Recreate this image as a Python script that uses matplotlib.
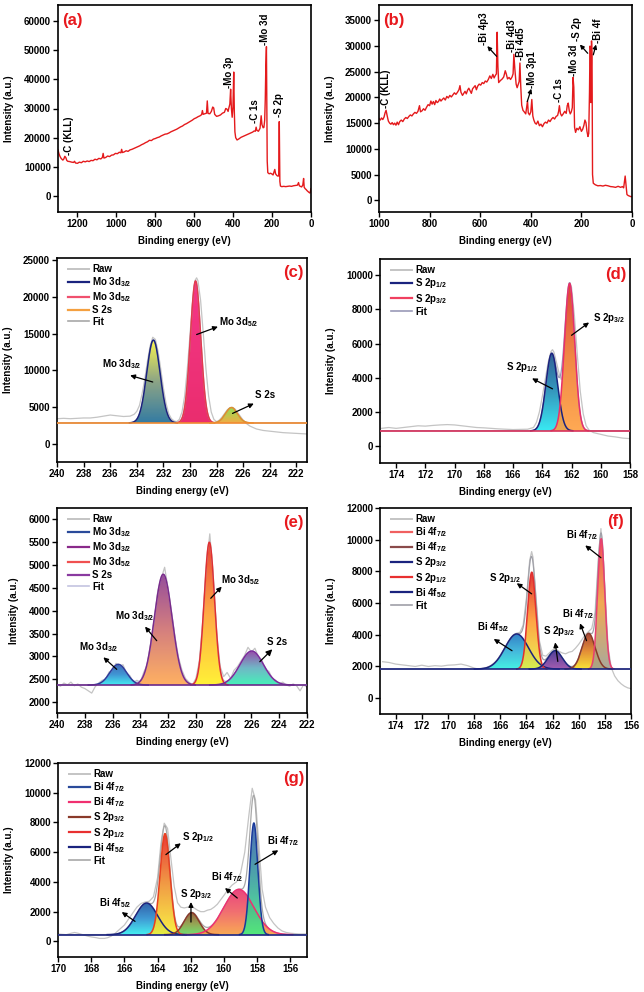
import numpy as np
import matplotlib
matplotlib.use('Agg')
import matplotlib.pyplot as plt
from matplotlib.colors import LinearSegmentedColormap
from matplotlib.patches import Polygon
from matplotlib.lines import Line2D

plt.rcParams['font.family'] = ['Liberation Sans', 'DejaVu Sans']
plt.rcParams['font.weight'] = 'bold'
plt.rcParams['axes.labelweight'] = 'bold'
plt.rcParams['mathtext.fontset'] = 'custom'
plt.rcParams['mathtext.rm'] = 'Liberation Sans:bold'
plt.rcParams['mathtext.bf'] = 'Liberation Sans:bold'
plt.rcParams['mathtext.it'] = 'Liberation Sans:bold'
plt.rcParams['mathtext.default'] = 'bf'

# ---------------- survey spectra ----------------
a_be = [1300, 1295, 1290, 1285, 1280, 1275, 1270, 1265, 1260, 1255, 1250, 1240, 1230, 1220, 1215, 1210,
        1200, 1190, 1180, 1170, 1160, 1150, 1140, 1130, 1120, 1110, 1100, 1090, 1080, 1072, 1068, 1064,
        1055, 1045, 1035, 1025, 1015, 1005, 995, 985, 977, 973, 969, 960, 950, 940, 930, 920, 910, 900,
        890, 880, 870, 860, 850, 840, 830, 820, 810, 800, 790, 780, 770, 760, 750, 740, 730, 720, 710,
        700, 690, 680, 670, 660, 650, 640, 630, 620, 610, 600, 590, 580, 570, 562, 558, 554, 545, 537,
        533, 529, 520, 512, 505, 500, 495, 485, 475, 465, 455, 445, 438, 432, 426, 422, 417, 413, 409,
        405, 401, 397, 394, 391, 387, 380, 370, 360, 350, 340, 330, 320, 310, 300, 292, 286, 282, 278,
        270, 262, 256, 252, 246, 242, 238, 235, 232, 229, 227, 225, 222, 215, 208, 200, 195, 190, 186,
        182, 175, 170, 166, 163, 160, 157, 150, 140, 130, 120, 110, 100, 90, 80, 70, 64, 60, 55, 48,
        42, 38, 35, 30, 25, 20, 15, 10, 5, 2, 0]
a_int = [15800, 14500, 13600, 13000, 12600, 12300, 12700, 13600, 13200, 12200, 11900, 11800, 11600,
         11500, 11900, 11300, 11200, 11600, 11400, 11900, 11700, 12000, 11800, 12200, 12100, 12600,
         12400, 12900, 12700, 13200, 14600, 13000, 13200, 13700, 13500, 14000, 14100, 14600, 14500,
         15000, 14800, 16000, 14900, 15100, 15500, 15300, 15800, 16000, 16300, 16600, 16900, 17200,
         17600, 17900, 18300, 18600, 19100, 19000, 19500, 19700, 20000, 20200, 20600, 20900, 21200,
         21300, 21600, 22000, 22300, 22600, 22900, 23300, 23700, 24000, 24500, 24800, 25200, 25600,
         26000, 26500, 26800, 27200, 27500, 27900, 29300, 28000, 28200, 28400, 32600, 28300, 28200,
         29000, 30500, 30200, 28000, 27300, 27500, 27800, 28400, 28700, 30000, 29800, 29000, 30200,
         31500, 36600, 30000, 27000, 30500, 42500, 29000, 22000, 20000, 19200, 19600, 20100, 20400,
         20700, 21000, 21300, 21600, 21900, 22300, 22200, 23600, 22500, 22200, 23200, 27500, 24500,
         23400, 23500, 26000, 33000, 45000, 51200, 31000, 12000, 8000, 7600, 7800, 7500, 7200, 8200,
         9100, 7600, 7000, 6800, 6900, 25500, 5000, 3400, 3200, 3300, 3200, 3300, 3400, 3300, 3500,
         3600, 3700, 4600, 3500, 3300, 3100, 3800, 6000, 3000, 2500, 2200, 1800, 1500, 1200, 1000,
         2000, 2500]

b_be = [1000, 995, 990, 985, 980, 976, 972, 968, 963, 958, 953, 948, 943, 938, 933, 928, 923, 918,
        912, 906, 900, 894, 888, 882, 876, 870, 864, 858, 852, 846, 840, 836, 830, 824, 818, 812, 806,
        800, 795, 790, 785, 780, 775, 770, 765, 760, 755, 750, 744, 738, 732, 726, 720, 714, 708, 702,
        696, 690, 684, 680, 676, 670, 665, 660, 655, 650, 645, 640, 635, 630, 625, 620, 615, 610, 604,
        598, 592, 586, 580, 574, 568, 562, 556, 550, 545, 540, 536, 533, 530, 527, 520, 513, 507, 501,
        497, 492, 486, 480, 474, 470, 467, 463, 458, 454, 450, 446, 443, 440, 436, 431, 426, 420, 416,
        413, 410, 405, 400, 396, 392, 388, 383, 378, 372, 366, 360, 354, 348, 342, 336, 330, 324, 318,
        312, 306, 300, 294, 290, 287, 283, 278, 272, 266, 260, 256, 252, 248, 244, 240, 236, 233, 230,
        227, 223, 218, 212, 206, 200, 195, 190, 186, 182, 178, 174, 171, 168, 166, 164, 162, 160, 158,
        156, 153, 145, 135, 125, 115, 105, 95, 85, 75, 65, 55, 45, 38, 33, 30, 27, 24, 20, 15, 10, 5, 0]
b_int = [15900, 15600, 16000, 15700, 16200, 17000, 17500, 16500, 15400, 15000, 14800, 15100, 14700,
         15000, 14600, 15200, 14700, 15300, 15600, 15300, 15800, 16100, 15900, 16300, 16600, 16400,
         16800, 17100, 16900, 17300, 18400, 17200, 17400, 17800, 17500, 18100, 18600, 18400, 19300,
         18700, 19200, 18600, 19400, 19000, 19200, 19700, 19300, 19600, 19900, 19500, 20200, 19900,
         20400, 20100, 20500, 20900, 20600, 21000, 21500, 22300, 21000, 20400, 20800, 21200, 20700,
         21400, 21800, 21300, 20800, 21700, 22000, 22300, 21500, 22200, 22600, 22400, 22900, 22700,
         23200, 23000, 23500, 24200, 23700, 24500, 23800, 24300, 24600, 32700, 26000, 22900, 23300,
         23600, 24000, 25200, 24600, 23600, 23900, 23500, 24000, 24600, 28400, 25500, 22600, 21900,
         22500, 23100, 26700, 22500, 18500, 17500, 17200, 16800, 18200, 19300, 17000, 16600, 17200,
         19600, 16400, 15600, 15000, 14800, 15400, 14500, 14800, 14300, 14900, 15200, 15000, 15600,
         15300, 15800, 16100, 15800, 16300, 16500, 17300, 18400, 16900, 16400, 16800, 17300, 16900,
         18400, 18900, 17400, 16800, 17200, 18000, 23900, 22000, 14200, 13200, 14000, 13700, 14300,
         13400, 13800, 14600, 15600, 15100, 13400, 12400, 13000, 21000, 30000, 29500, 19000, 31000,
         28000, 5000, 3300, 3000, 2800, 2850, 2750, 2900, 2800, 2650, 2600, 2500, 2700, 2500, 2650,
         2400, 3500, 4700, 3200, 1100, 900, 800, 700, 700]

# ---------------- (c) Mo 3d / S 2s ----------------
c_raw_be = [240, 239.5, 239, 238.5, 238, 237.5, 237, 236.5, 236, 235.5, 235, 234.5, 234.2, 234, 233.8,
            233.6, 233.4, 233.2, 233, 232.8, 232.6, 232.4, 232.2, 232, 231.8, 231.6, 231.4, 231.2, 231,
            230.8, 230.6, 230.4, 230.2, 230, 229.8, 229.6, 229.5, 229.4, 229.2, 229, 228.8, 228.6,
            228.4, 228.2, 228, 227.8, 227.6, 227.4, 227.2, 227, 226.8, 226.6, 226.4, 226.2, 226, 225.8,
            225.5, 225, 224.5, 224, 223.5, 223, 222.5, 222, 221.5, 221]
c_raw_int = [3400, 3450, 3400, 3450, 3500, 3500, 3600, 3750, 3900, 3800, 3700, 3750, 4000, 4400, 5200,
             6800, 8800, 11200, 13300, 14500, 14200, 12600, 10200, 7600, 5500, 4100, 3400, 3100, 3000,
             3300, 4300, 6500, 10200, 14800, 19400, 22300, 22600, 22200, 19500, 15000, 10200, 6500,
             4300, 3300, 3000, 3200, 3600, 4100, 4600, 4900, 4950, 4700, 4200, 3700, 3200, 2800, 2400,
             2000, 1800, 1700, 1600, 1500, 1450, 1400, 1350, 1300]
c_base = 2822
c_names = ['Mo 3d$_{3/2}$', 'Mo 3d$_{5/2}$', 'S 2s']
c_center = [232.75, 229.58, 226.88]
c_top = [14113, 22177, 4920]
c_sigma = [0.5, 0.39, 0.45]

# ---------------- (d) S 2p ----------------
d_raw_be = [175, 174.5, 174, 173.5, 173, 172.5, 172, 171.5, 171, 170.5, 170, 169.5, 169, 168.5, 168,
            167.5, 167, 166.5, 166, 165.5, 165, 164.6, 164.4, 164.2, 164, 163.8, 163.6, 163.4, 163.3,
            163.2, 163, 162.8, 162.7, 162.6, 162.5, 162.4, 162.3, 162.2, 162.1, 162, 161.8, 161.6,
            161.4, 161.2, 161, 160.8, 160.5, 160, 159.5, 159, 158.5, 158]
d_raw_int = [1050, 1100, 1050, 1100, 1150, 1200, 1180, 1220, 1250, 1270, 1250, 1200, 1150, 1100, 1080,
             1050, 1020, 1000, 980, 990, 1000, 1100, 1400, 2000, 2900, 3900, 4900, 5550, 5650, 5500,
             4800, 4100, 3900, 4300, 5500, 7000, 8400, 9300, 9550, 9300, 7600, 5300, 3200, 1900, 1200,
             950, 800, 700, 600, 550, 480, 450]
d_base = 903
d_names = ['S 2p$_{1/2}$', 'S 2p$_{3/2}$']
d_center = [163.35, 162.13]
d_top = [5437, 9525]
d_sigma = [0.4, 0.35]

# ---------------- (e) Mo 3d / S 2s ----------------
e_raw = [(240.0, 2390), (239.75, 2350), (239.5, 2420), (239.25, 2380), (239.0, 2440), (238.75, 2360),
         (238.5, 2400), (238.25, 2330), (238.0, 2300), (237.75, 2250), (237.5, 2200), (237.25, 2340),
         (237.0, 2420), (236.75, 2480), (236.5, 2500), (236.25, 2660), (236.0, 2700), (235.75, 2850),
         (235.5, 2790), (235.25, 2820), (235.0, 2640), (234.75, 2580), (234.5, 2430), (234.25, 2480),
         (234.0, 2440), (233.75, 2660), (233.5, 2820), (233.25, 3300), (233.0, 3790), (232.75, 4420),
         (232.5, 4700), (232.25, 4950), (232.0, 4480), (231.75, 3960), (231.5, 3420), (231.25, 2980),
         (231.0, 2700), (230.75, 2520), (230.5, 2440), (230.25, 2380), (230.0, 2520), (229.75, 2900),
         (229.5, 3800), (229.25, 4950), (229.0, 5680), (228.75, 4750), (228.5, 3500), (228.25, 2780),
         (228.0, 2560), (227.75, 2650), (227.5, 2520), (227.25, 2700), (227.0, 2780), (226.75, 2900),
         (226.5, 3020), (226.25, 3200), (226.0, 3100), (225.75, 3180), (225.5, 2990), (225.25, 2930),
         (225.0, 2700), (224.75, 2680), (224.5, 2520), (224.25, 2480), (224.0, 2400), (223.75, 2440),
         (223.5, 2380), (223.25, 2350), (223.0, 2400), (222.75, 2360), (222.5, 2250), (222.25, 2380),
         (222.0, 2330)]
e_base = 2376
e_names = ['Mo 3d$_{3/2}$', 'Mo 3d$_{3/2}$', 'Mo 3d$_{5/2}$', 'S 2s']
e_center = [235.59, 232.35, 229.03, 225.98]
e_top = [2828, 4797, 5497, 3119]
e_sigma = [0.6, 0.64, 0.37, 0.84]

# ---------------- (f) Bi 4f / S 2p ----------------
f_raw = [(175, 2300), (174.5, 2250), (174, 2150), (173.5, 2100), (173, 2050), (172.5, 2000), (172, 2080),
         (171.5, 2000), (171, 2050), (170.5, 2020), (170, 2080), (169.5, 2100), (169, 2150), (168.5, 2050),
         (168, 1900), (167.75, 1850), (167.5, 1870), (167.25, 1900), (167, 1950), (166.75, 2050),
         (166.5, 2200), (166.25, 2400), (166, 2700), (165.75, 3050), (165.5, 3400), (165.25, 3750),
         (165, 4000), (164.75, 4100), (164.5, 4150), (164.25, 4600), (164, 6300), (163.75, 8700),
         (163.6, 9250), (163.5, 8900), (163.25, 6200), (163, 3600), (162.75, 2700), (162.5, 2650),
         (162.25, 2850), (162, 3050), (161.75, 3100), (161.5, 2950), (161.25, 2850), (161, 2800),
         (160.75, 2900), (160.5, 2950), (160.25, 3150), (160, 3400), (159.75, 3700), (159.5, 4000),
         (159.25, 4200), (159, 4400), (158.75, 5400), (158.5, 8800), (158.3, 10700), (158.1, 8600),
         (158, 7000), (157.75, 3200), (157.5, 1900), (157.25, 1400), (157, 1100), (156.75, 900),
         (156.5, 750), (156.25, 650), (156, 600)]
f_base = 1835
f_names = ['Bi 4f$_{7/2}$', 'Bi 4f$_{7/2}$', 'S 2p$_{3/2}$', 'S 2p$_{1/2}$', 'Bi 4f$_{5/2}$']
f_center = [158.28, 159.24, 161.8, 163.59, 164.74]
f_top = [10063, 4088, 2994, 7949, 4051]
f_sigma = [0.27, 0.5, 0.55, 0.32, 0.9]

# ---------------- (g) Bi 4f / S 2p ----------------
g_raw = [(170, 500), (169.5, 450), (169.2, 550), (169, 600), (168.8, 550), (168.5, 450), (168.2, 350),
         (168, 300), (167.7, 250), (167.5, 200), (167.2, 200), (167, 250), (166.8, 350), (166.6, 500),
         (166.4, 700), (166.2, 900), (166, 1100), (165.75, 1500), (165.5, 1900), (165.25, 2300),
         (165, 2550), (164.75, 2650), (164.5, 2700), (164.25, 3000), (164, 4300), (163.8, 6600),
         (163.6, 7950), (163.4, 7600), (163.2, 5600), (163, 3700), (162.8, 2600), (162.6, 2300),
         (162.4, 2250), (162.2, 2300), (162, 2350), (161.8, 2250), (161.6, 2100), (161.4, 2000),
         (161.2, 2000), (161, 2100), (160.8, 2150), (160.6, 2300), (160.4, 2500), (160.2, 2800),
         (160, 3100), (159.75, 3500), (159.5, 3800), (159.25, 4000), (159, 4600), (158.75, 6000),
         (158.5, 8500), (158.3, 10300), (158.1, 9500), (157.9, 6500), (157.7, 3500), (157.5, 2300),
         (157.25, 1600), (157, 1200), (156.75, 900), (156.5, 700), (156.25, 600), (156, 550),
         (155.5, 500), (155, 500)]
g_base = 451
g_names = ['Bi 4f$_{7/2}$', 'Bi 4f$_{7/2}$', 'S 2p$_{3/2}$', 'S 2p$_{1/2}$', 'Bi 4f$_{5/2}$']
g_center = [158.2, 159.1, 161.95, 163.55, 164.66]
g_top = [7966, 3502, 1932, 7252, 2579]
g_sigma = [0.24, 0.9, 0.45, 0.3, 0.66]

RED = '#e8191e'
W, H = 644, 992
fig = plt.figure(figsize=(W / 100, H / 100), dpi=100)


def px_axes(l, t, r, b):
    return fig.add_axes([l / W, 1 - b / H, (r - l) / W, (b - t) / H])


def dress(ax, xlim, ylim, xticks, yticks, tag, tx, ty, ha):
    ax.set_xlim(xlim)
    ax.set_ylim(ylim)
    ax.set_xticks(xticks)
    ax.set_yticks(yticks)
    ax.tick_params(direction='out', length=3.5, width=1.0, labelsize=7, pad=1.5)
    for sp in ax.spines.values():
        sp.set_linewidth(1.2)
    ax.set_xlabel('Binding energy (eV)', fontsize=7, labelpad=5)
    ax.set_ylabel('Intensity (a.u.)', fontsize=7, labelpad=7)
    ax.text(tx, ty, tag, transform=ax.transAxes, color=RED, fontsize=12,
            fontweight='bold', ha=ha, va='center')


def arrow(ax, x0, y0, x1, y1, ms=7):
    ax.annotate('', xy=(x1, y1), xytext=(x0, y0),
                arrowprops=dict(arrowstyle='-|>', color='black', lw=0.9,
                                mutation_scale=ms, shrinkA=0, shrinkB=0), zorder=6)


def label(ax, x, y, s):
    ax.text(x, y, s, fontsize=7, ha='left', va='center', zorder=6)


def grad_fill(ax, xs, ys, base, colors, z, alpha=0.9):
    verts = np.column_stack([np.r_[xs, xs[::-1]], np.r_[ys, np.full_like(xs, base)]])
    poly = Polygon(verts, closed=True, facecolor='none', edgecolor='none')
    ax.add_patch(poly)
    cmap = LinearSegmentedColormap.from_list('g', colors)
    grad = np.linspace(0, 1, 256).reshape(-1, 1)
    im = ax.imshow(grad, cmap=cmap, aspect='auto', origin='lower', alpha=alpha,
                   extent=[xs.min(), xs.max(), base, ys.max()], zorder=z)
    im.set_clip_path(poly)


def fit_panel(ax, xr, raw_x, raw_y, base, centers, tops, sigmas, names,
              fills, edges, order, base_color, fit_color, leg_colors):
    x = np.linspace(xr[0], xr[1], 2000)
    ax.plot(raw_x, raw_y, color='#c4c4c4', lw=0.9, zorder=1)
    total = np.full_like(x, float(base))
    for i in order:
        c, h, s = centers[i], tops[i], sigmas[i]
        xs = np.linspace(c - 3.6 * s, c + 3.6 * s, 400)
        ys = base + (h - base) * np.exp(-(xs - c) ** 2 / (2 * s * s))
        grad_fill(ax, xs, ys, base, fills[i], z=2)
        total += (h - base) * np.exp(-(x - c) ** 2 / (2 * s * s))
    ax.plot(x, total, color=fit_color, lw=0.9, zorder=3)
    for i in order:
        c, h, s = centers[i], tops[i], sigmas[i]
        xs = np.linspace(c - 3.6 * s, c + 3.6 * s, 400)
        ys = base + (h - base) * np.exp(-(xs - c) ** 2 / (2 * s * s))
        ax.plot(xs, ys, color=edges[i], lw=1.1, zorder=4)
    ax.axhline(base, color=base_color, lw=1.2, zorder=5)
    handles = [Line2D([], [], color='#c4c4c4', lw=1.4)]
    handles += [Line2D([], [], color=leg_colors[i], lw=1.6) for i in range(len(names))]
    handles += [Line2D([], [], color=fit_color, lw=1.2)]
    ax.legend(handles, ['Raw'] + names + ['Fit'], loc='upper left', frameon=False,
              fontsize=7, handlelength=2.1, handletextpad=0.35, labelspacing=0.12,
              borderaxespad=0.25, bbox_to_anchor=(0.02, 1.0))


# ---------------- (a) ----------------
ax = px_axes(58, 5, 311, 212)
ax.plot(a_be, a_int, color='#e41a1c', lw=1.0)
dress(ax, (1300, 0), (-5500, 65500), np.arange(0, 1201, 200), np.arange(0, 60001, 10000),
      '(a)', 0.018, 0.925, 'left')
for xx, yy, s in [(1241, 14000, '-C (KLL)'), (419, 37200, '-Mo 3p'), (286, 24900, '-C 1s'),
                  (235, 51700, '-Mo 3d'), (162, 27100, '-S 2p')]:
    ax.text(xx, yy, s, rotation=90, ha='center', va='bottom', fontsize=7)

# ---------------- (b) ----------------
ax = px_axes(379, 5, 632, 212)
ax.plot(b_be, b_int, color='#e41a1c', lw=1.0)
dress(ax, (1000, 0), (-2300, 38000), np.arange(0, 1001, 200), np.arange(0, 35001, 5000),
      '(b)', 0.018, 0.925, 'left')
for xx, yy, s in [(972, 17900, '-C (KLL)'), (586, 30300, '-Bi 4p3'), (476, 28900, '-Bi 4d3'),
                  (439, 27300, '-Bi 4d5'), (394, 21800, '-Mo 3p1'), (288, 19200, '-C 1s'),
                  (229, 24100, '-Mo 3d'), (219, 30900, '-S 2p'), (136, 30600, '-Bi 4f')]:
    ax.text(xx, yy, s, rotation=90, ha='center', va='bottom', fontsize=7)
arrow(ax, 535, 28000, 572, 30000, ms=6)
arrow(ax, 414, 19200, 398, 21700, ms=6)
arrow(ax, 175, 28600, 206, 30300, ms=6)
arrow(ax, 153, 28300, 142, 30300, ms=6)

# ---------------- (c) ----------------
ax = px_axes(57, 258, 307, 462)
fit_panel(ax, (241, 220), c_raw_be, c_raw_int, c_base, c_center, c_top, c_sigma, c_names,
          fills=[['#1c6c98', '#7f9a78', '#f8f23c'], ['#e8155e', '#f4207a'], ['#f2a230', '#7fe040']],
          edges=['#1a237e', '#e53950', '#e0902a'], order=[0, 1, 2],
          base_color='#f08a30', fit_color='#a8a8a8',
          leg_colors=['#1a237e', '#f0506e', '#f4a040'])
dress(ax, (240, 221.2), (-2500, 25300), np.arange(222, 241, 2), np.arange(0, 25001, 5000),
      '(c)', 0.985, 0.928, 'right')
label(ax, 236.6, 10800, 'Mo 3d$_{3/2}$')
arrow(ax, 232.8, 8400, 234.5, 9300)
label(ax, 227.8, 16570, 'Mo 3d$_{5/2}$')
arrow(ax, 229.5, 14870, 227.9, 15940)
label(ax, 225.1, 6570, 'S 2s')
arrow(ax, 226.8, 4120, 225.2, 5460)

# ---------------- (d) ----------------
ax = px_axes(380, 259, 630, 463)
fit_panel(ax, (176, 157), d_raw_be, d_raw_int, d_base, d_center, d_top, d_sigma, d_names,
          fills=[['#22e8f2', '#1e8eb8', '#1a4f8a'], ['#ffa040', '#f07a30', '#d83020']],
          edges=['#1a237e', '#e8306a'], order=[0, 1],
          base_color='#d8305a', fit_color='#9a9ab8',
          leg_colors=['#1a237e', '#f04060'])
dress(ax, (175.1, 158), (-975, 10950), np.arange(158, 175, 2), np.arange(0, 10001, 2000),
      '(d)', 0.988, 0.925, 'right')
label(ax, 166.45, 4630, 'S 2p$_{1/2}$')
arrow(ax, 163.3, 3360, 164.7, 3970)
label(ax, 160.5, 7530, 'S 2p$_{3/2}$')
arrow(ax, 162.0, 6490, 160.8, 7240)

# ---------------- (e) ----------------
ax = px_axes(57, 508, 307, 713)
e_be = [p[0] for p in e_raw]
e_int = [p[1] for p in e_raw]
fit_panel(ax, (241, 221), e_be, e_int, e_base, e_center, e_top, e_sigma, e_names,
          fills=[['#30eaf0', '#2a8ad0', '#2a5ab0'], ['#ffa850', '#d07070', '#8a3a90'],
                 ['#fff020', '#ffa030', '#e83020'], ['#30f0b0', '#60b0c0', '#8a3aa0']],
          edges=['#2a3a9a', '#7a2a8a', '#e03030', '#7a2a9a'], order=[0, 1, 2, 3],
          base_color='#6a2a8a', fit_color='#c4c4e0',
          leg_colors=['#2a4a9a', '#8a2a8a', '#f05050', '#8a3aa0'])
dress(ax, (240, 222), (1765, 6245), np.arange(222, 241, 2), np.arange(2000, 6001, 500),
      '(e)', 0.985, 0.928, 'right')
label(ax, 238.4, 3214, 'Mo 3d$_{3/2}$')
arrow(ax, 235.7, 2719, 236.66, 2982)
label(ax, 235.8, 3892, 'Mo 3d$_{3/2}$')
arrow(ax, 232.82, 3345, 233.66, 3652)
label(ax, 228.19, 4672, 'Mo 3d$_{5/2}$')
arrow(ax, 228.93, 4272, 228.14, 4526)
label(ax, 224.9, 3323, 'S 2s')
arrow(ax, 225.4, 2886, 224.5, 3157, ms=9)

# ---------------- (f) ----------------
ax = px_axes(380, 508, 631, 714)
f_be = [p[0] for p in f_raw]
f_int = [p[1] for p in f_raw]
fit_panel(ax, (176, 155), f_be, f_int, f_base, f_center, f_top, f_sigma, f_names,
          fills=[['#a0a090', '#f0a040', '#f04040'], ['#f8e020', '#e08020', '#a03020'],
                 ['#9a4aa8', '#6a3a9a', '#3a2a8a'], ['#e8f040', '#ff9a30', '#e02020'],
                 ['#30f0e0', '#30b0d8', '#1a70c0']],
          edges=['#e84070', '#8a3a2a', '#1a237e', '#e03030', '#1a237e'], order=[4, 3, 2, 1, 0],
          base_color='#1a237e', fit_color='#a0a0a8',
          leg_colors=['#f06060', '#8a4a4a', '#1a237e', '#e83030', '#1a237e'])
dress(ax, (175.2, 156), (-1000, 12000), np.arange(156, 175, 2), np.arange(0, 12001, 2000),
      '(f)', 0.971, 0.933, 'right')
label(ax, 166.9, 7590, 'S 2p$_{1/2}$')
arrow(ax, 163.6, 6582, 164.74, 7253)
label(ax, 167.8, 4468, 'Bi 4f$_{5/2}$')
arrow(ax, 165.1, 2994, 166.5, 3734)
label(ax, 162.7, 4215, 'S 2p$_{3/2}$')
arrow(ax, 161.6, 2316, 161.8, 3519)
label(ax, 161.3, 5316, 'Bi 4f$_{7/2}$')
arrow(ax, 159.4, 3627, 159.9, 4722)
label(ax, 161.0, 10316, 'Bi 4f$_{7/2}$')
arrow(ax, 158.3, 8861, 159.5, 9639)

# ---------------- (g) ----------------
ax = px_axes(58, 763, 307, 957)
g_be = [p[0] for p in g_raw]
g_int = [p[1] for p in g_raw]
fit_panel(ax, (171, 154), g_be, g_int, g_base, g_center, g_top, g_sigma, g_names,
          fills=[['#40f080', '#3aa0a0', '#3a5ab0'], ['#f8a040', '#f06060', '#e83070'],
                 ['#60e060', '#8a9a40', '#8a4a2a'], ['#f8f030', '#f09030', '#e82020'],
                 ['#30f0f0', '#2a90d0', '#1a50a0']],
          edges=['#1a3a9a', '#f03070', '#8a3a2a', '#e84020', '#1a237e'], order=[4, 3, 2, 1, 0],
          base_color='#1a237e', fit_color='#a8a8a8',
          leg_colors=['#2a4a9a', '#f03070', '#8a3a2a', '#e83030', '#1a237e'])
dress(ax, (170, 155), (-1050, 12000), np.arange(156, 171, 2), np.arange(0, 12001, 2000),
      '(g)', 0.988, 0.921, 'right')
label(ax, 167.5, 2579, 'Bi 4f$_{5/2}$')
arrow(ax, 165.36, 1347, 166.16, 1973)
label(ax, 162.55, 7000, 'S 2p$_{1/2}$')
arrow(ax, 163.5, 5838, 162.6, 6600)
label(ax, 162.65, 3165, 'S 2p$_{3/2}$')
arrow(ax, 161.99, 1300, 161.99, 2647)
label(ax, 160.78, 4330, 'Bi 4f$_{7/2}$')
arrow(ax, 159.2, 2916, 159.94, 3589)
label(ax, 157.43, 6747, 'Bi 4f$_{7/2}$')
arrow(ax, 158.13, 5185, 156.73, 6128)

fig.savefig('out.png', dpi=100)
